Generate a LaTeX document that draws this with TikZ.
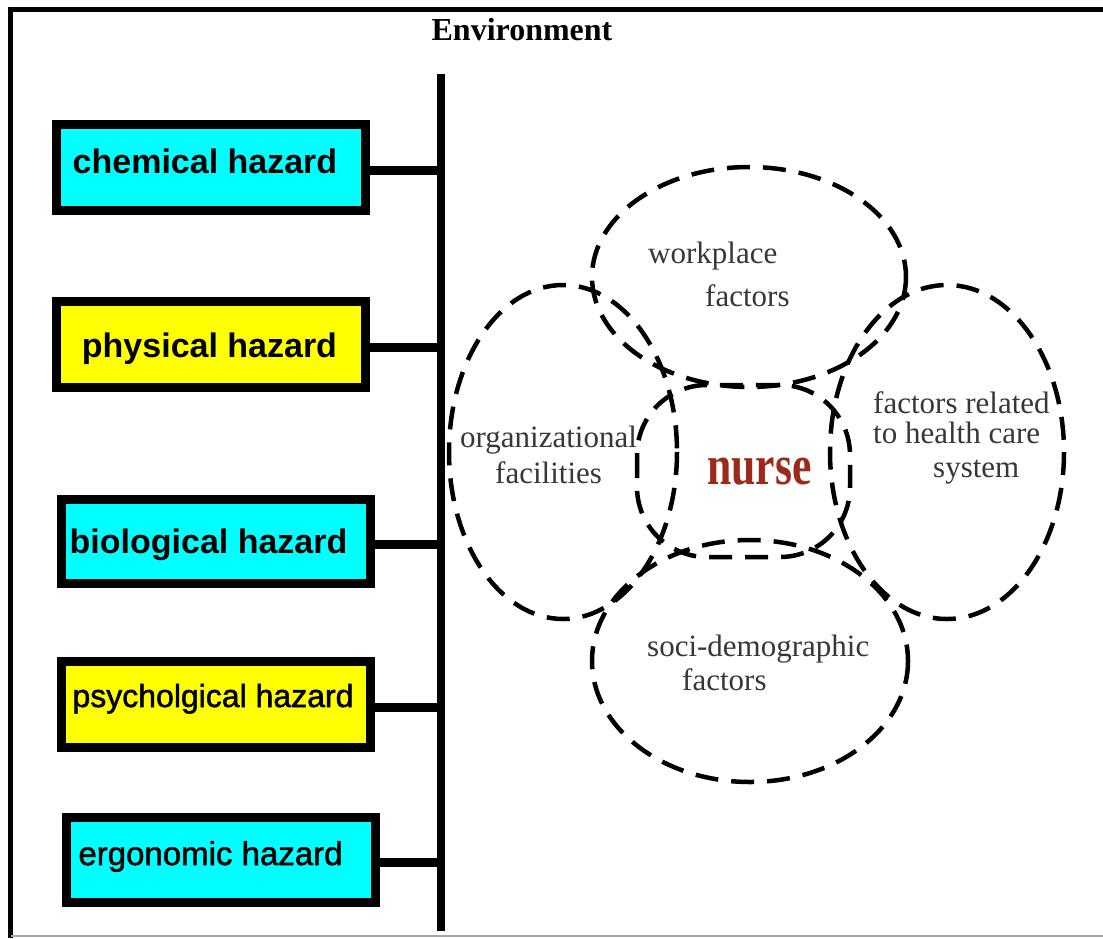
\documentclass[tikz,border=0pt]{standalone}
\usepackage{fontspec}
\setmainfont{Liberation Serif}
\newfontfamily\hazfont{Liberation Sans}
\newfontfamily\hazmidfont{Liberation Sans}[FakeBold=1.6]
\definecolor{hzcyan}{RGB}{0,255,255}
\definecolor{hzyellow}{RGB}{255,255,0}
\definecolor{nursered}{RGB}{155,42,28}
\definecolor{factgray}{RGB}{55,55,55}
\begin{document}
\begin{tikzpicture}[x=1pt,y=-1pt,
  hazbox/.style={draw=black, line width=9pt, inner sep=0pt,
    minimum width=309pt, minimum height=86pt},
  hazlbl/.style={inner sep=0pt, anchor=base, text=black,
    font=\hazfont\bfseries\fontsize{34}{34}\selectfont},
  hazmid/.style={hazlbl, font=\hazmidfont\fontsize{32}{32}\selectfont},
  bar/.style={line width=9pt},
  dashring/.style={draw=black, line width=4.5pt, dash pattern=on 23pt off 13pt},
  factor/.style={inner sep=0pt, anchor=base west, text=factgray,
    font=\fontsize{31}{31}\selectfont}]

\useasboundingbox (0,0) rectangle (1103,938);
\fill[white] (0,0) rectangle (1103,938);

% outer frame
\draw[line width=5pt, line join=miter] (10.5,938) -- (10.5,9) -- (1103,9);
\draw[black!35, line width=2pt] (10.5,936) -- (1103,936);

\node[inner sep=0pt, anchor=base, font=\bfseries\fontsize{32}{32}\selectfont]
  (env) at (522,40) {Environment};

% vertical bus
\coordinate (bustop) at (441,74);
\coordinate (busbot) at (441,931);
\draw[line width=8pt] (bustop) -- (busbot);

% hazard boxes
\node[hazbox, fill=hzcyan]   (chem)  at (211,167.5) {};
\node[hazbox, fill=hzyellow] (phys)  at (211,344.5) {};
\node[hazbox, fill=hzcyan, minimum height=84pt] (bio) at (216,541.5) {};
\node[hazbox, fill=hzyellow] (psych) at (216,704.5) {};
\node[hazbox, fill=hzcyan, minimum height=85pt] (ergo) at (221,860) {};

\node[hazlbl] (chemt)  at (205,173)   {chemical hazard};
\node[hazlbl] (physt)  at (209.5,357) {physical hazard};
\node[hazlbl] (biot)   at (208.5,553) {biological hazard};
\node[hazmid] (psycht) at (213,707)   {psycholgical hazard};
\node[hazmid, font=\hazmidfont\fontsize{33}{33}\selectfont] (ergot) at (210.5,865) {ergonomic hazard};

% branches to the bus
\foreach \b in {chem,phys,bio,psych,ergo}
  \draw[bar] ([yshift=-2.5pt]\b.east) -- ([yshift=-2.5pt]\b.east -| bustop);

% overlapping factor rings
\draw[dashring] (749,277) ellipse [x radius=157, y radius=110];
\draw[dashring] (563,452) ellipse [x radius=114, y radius=167];
\draw[dashring] (947,452) ellipse [x radius=117, y radius=167];
\draw[dashring] (750,661) ellipse [x radius=158, y radius=121];
\draw[dashring, rounded corners=70pt] (637,385) rectangle (850,557);

% ring labels
\node[factor] (wp1) at (648,263) {workplace};
\node[factor] (wp2) at (705,306) {factors};
\node[factor] (or1) at (460,447) {organizational};
\node[factor] (or2) at (495,483) {facilities};
\node[factor] (hc1) at (873,413) {factors related};
\node[factor] (hc2) at (873,443) {to health care};
\node[factor] (hc3) at (933,477) {system};
\node[factor] (sd1) at (647,656) {soci-demographic};
\node[factor] (sd2) at (682,690) {factors};

\node[inner sep=0pt, anchor=base, text=nursered,
  font=\bfseries\fontsize{45}{45}\selectfont] (nurse) at (759.5,484)
  {\scalebox{0.97}[1.25]{nurse}};
\end{tikzpicture}
\end{document}
